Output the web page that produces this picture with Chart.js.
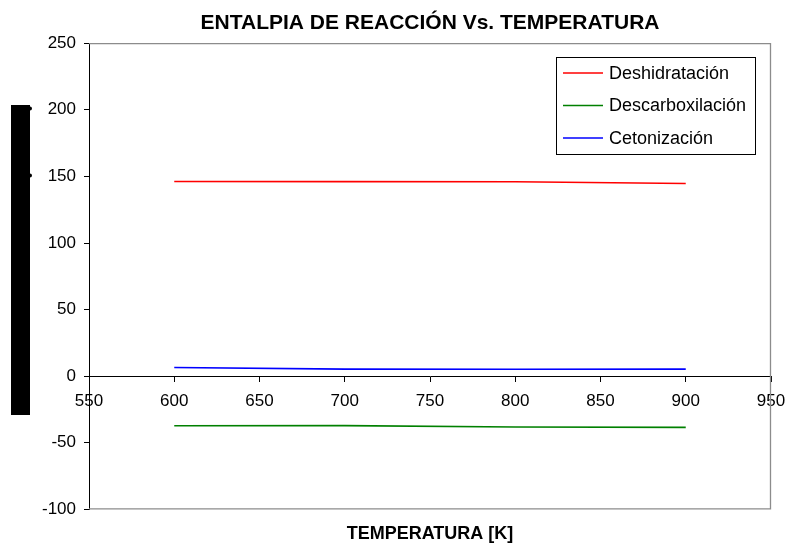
<!DOCTYPE html>
<html>
<head>
<meta charset="utf-8">
<script src="https://cdn.jsdelivr.net/npm/chart.js@4.4.1/dist/chart.umd.min.js"></script>
<style>
  html, body { margin: 0; padding: 0; background: #ffffff; }
  #wrap { width: 789px; height: 546px; }
</style>
</head>
<body>
<div id="wrap"><canvas id="c" width="789" height="546"></canvas></div>
<script>
// Temperatures [K] at which the reaction enthalpy was evaluated
const temperaturas = [600, 700, 800, 900];

// Reaction enthalpy per reaction
const deshidratacion = [146.2, 146.1, 146.0, 144.7];
const descarboxilacion = [-37.2, -37.1, -38.1, -38.4];
const cetonizacion = [6.5, 5.3, 5.2, 5.3];

const seriesNames = ['Deshidratación', 'Descarboxilación', 'Cetonización'];
const seriesColors = ['#ff0000', '#008000', '#0000ff'];

// Axis ranges and tick steps
const xTicks = { min: 550, max: 950, step: 50 };
const yTicks = { min: -100, max: 250, step: 50 };

const FONT = "'Liberation Sans', Arial, sans-serif";

function toPoints(values) {
  return temperaturas.map((t, i) => ({ x: t, y: values[i] }));
}

const allSeries = [deshidratacion, descarboxilacion, cetonizacion];

// Gray frame on top, right and bottom of the plotting area
const frame = {
  id: 'frame',
  beforeDatasetsDraw(chart) {
    const a = chart.chartArea;
    const ctx = chart.ctx;
    ctx.save();
    ctx.strokeStyle = '#8c8c8c';
    ctx.lineWidth = 1.3;
    ctx.beginPath();
    ctx.moveTo(a.left, a.top + 0.5);
    ctx.lineTo(a.right - 0.5, a.top + 0.5);
    ctx.lineTo(a.right - 0.5, a.bottom - 0.5);
    ctx.lineTo(a.left, a.bottom - 0.5);
    ctx.stroke();
    ctx.restore();
  }
};

// Boxed legend in the upper right corner of the plot
const boxedLegend = {
  id: 'boxedLegend',
  afterDraw(chart) {
    const ctx = chart.ctx;
    const box = { x: 556, y: 57, w: 199, h: 97 };
    const rows = [73, 105.5, 138];
    ctx.save();
    ctx.fillStyle = '#ffffff';
    ctx.fillRect(box.x, box.y, box.w, box.h);
    ctx.strokeStyle = '#000000';
    ctx.lineWidth = 1;
    ctx.strokeRect(box.x + 0.5, box.y + 0.5, box.w, box.h);
    ctx.font = '18px ' + FONT;
    ctx.textBaseline = 'middle';
    ctx.textAlign = 'left';
    chart.data.datasets.forEach((ds, i) => {
      const y = rows[i];
      ctx.strokeStyle = ds.borderColor;
      ctx.lineWidth = 1.5;
      ctx.beginPath();
      ctx.moveTo(563, y);
      ctx.lineTo(603, y);
      ctx.stroke();
      ctx.fillStyle = '#000000';
      ctx.fillText(ds.label, 609, y + 1);
    });
    ctx.restore();
  }
};

// Solid block covering the vertical axis caption
const captionBlock = {
  id: 'captionBlock',
  afterDraw(chart) {
    const ctx = chart.ctx;
    ctx.save();
    ctx.fillStyle = '#000000';
    ctx.fillRect(11, 105, 19, 310);
    ctx.beginPath();
    ctx.arc(30, 108.5, 2, 0, Math.PI * 2);
    ctx.arc(30, 175.5, 2, 0, Math.PI * 2);
    ctx.fill();
    ctx.restore();
  }
};

new Chart(document.getElementById('c'), {
  type: 'line',
  data: {
    datasets: allSeries.map((vals, i) => ({
      label: seriesNames[i],
      data: toPoints(vals),
      borderColor: seriesColors[i],
      backgroundColor: seriesColors[i],
      borderWidth: 1.6,
      pointRadius: 0,
      tension: 0,
      fill: false
    }))
  },
  options: {
    responsive: false,
    animation: false,
    events: [],
    layout: { padding: { left: 0, right: 18, top: 0, bottom: 0 } },
    plugins: {
      legend: { display: false },
      tooltip: { enabled: false },
      title: {
        display: true,
        text: 'ENTALPIA DE REACCIÓN Vs. TEMPERATURA',
        fullSize: false,
        color: '#000000',
        font: { family: FONT, size: 21, weight: 'bold' },
        padding: { top: 11, bottom: 7 }
      },
      subtitle: {
        display: true,
        position: 'bottom',
        text: 'TEMPERATURA [K]',
        fullSize: false,
        color: '#000000',
        font: { family: FONT, size: 18, weight: 'bold' },
        padding: { top: 14, bottom: 1 }
      }
    },
    scales: {
      x: {
        type: 'linear',
        position: { y: 0 },
        min: xTicks.min,
        max: xTicks.max,
        afterFit(scale) {
          scale.paddingLeft = 0;
          scale.paddingRight = 0;
        },
        ticks: {
          stepSize: xTicks.step,
          color: '#000000',
          font: { family: FONT, size: 17 },
          padding: 10,
          maxRotation: 0
        },
        grid: {
          drawOnChartArea: false,
          drawTicks: true,
          tickLength: 5,
          tickColor: '#000000',
          tickWidth: 1
        },
        border: { display: true, color: '#000000', width: 1 }
      },
      y: {
        type: 'linear',
        position: 'left',
        min: yTicks.min,
        max: yTicks.max,
        afterFit(scale) { scale.width = 89; },
        ticks: {
          stepSize: yTicks.step,
          color: '#000000',
          font: { family: FONT, size: 17 },
          padding: 8
        },
        grid: {
          drawOnChartArea: false,
          drawTicks: true,
          tickLength: 5,
          tickColor: '#000000',
          tickWidth: 1
        },
        border: { display: true, color: '#000000', width: 1 }
      }
    }
  },
  plugins: [frame, boxedLegend, captionBlock]
});
</script>
</body>
</html>
